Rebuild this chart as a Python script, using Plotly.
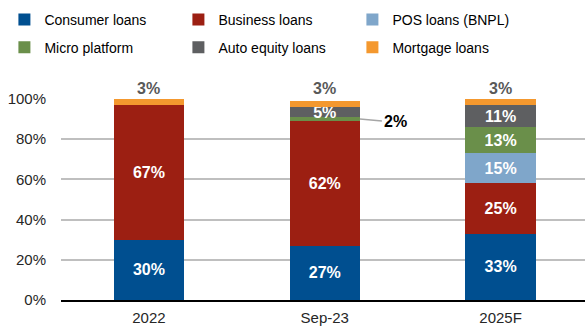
import plotly.graph_objects as go

periods = ["2022", "Sep-23", "2025F"]

consumer = [30, 27, 33]
business = [67, 62, 25]
pos_bnpl = [None, None, 15]
micro = [None, 2, 13]
auto_equity = [None, 5, 11]
mortgage = [3, 3, 3]

series = [
    ("Consumer loans", consumer, "#004f90", "legend"),
    ("Business loans", business, "#9c1f12", "legend"),
    ("POS loans (BNPL)", pos_bnpl, "#7fa6ca", "legend"),
    ("Micro platform", micro, "#6a8f4a", "legend2"),
    ("Auto equity loans", auto_equity, "#5e5f61", "legend2"),
    ("Mortgage loans", mortgage, "#f4982e", "legend2"),
]

xpos = list(range(len(periods)))

fig = go.Figure()
for name, vals, color, leg in series:
    # segments big enough get a white label inside; small ones are labelled separately
    labels = [f"{v}%" if (v is not None and v >= 4) else "" for v in vals]
    fig.add_trace(go.Bar(
        name=name,
        x=xpos,
        y=[v / 100 if v is not None else None for v in vals],
        marker=dict(color=color, line=dict(width=0)),
        text=labels,
        texttemplate="%{text}",
        textposition="inside",
        insidetextanchor="middle",
        constraintext="none",
        textfont=dict(color="white", size=16, family="Liberation Sans", weight="bold"),
        width=0.4,
        legend=leg,
        hoverinfo="skip",
    ))

# Mortgage share written above each column
for i, v in zip(xpos, mortgage):
    fig.add_annotation(
        x=i, y=1.0, xref="x", yref="y", text=f"<b>{v}%</b>", showarrow=False,
        yanchor="bottom", yshift=0,
        font=dict(size=16, color="#595959", family="Liberation Sans"),
    )

# Thin micro-platform slice in Sep-23 labelled with a leader line
idx = periods.index("Sep-23")
micro_mid = (consumer[idx] + business[idx] + micro[idx] / 2) / 100
fig.add_annotation(
    x=idx + 0.2, y=micro_mid, xref="x", yref="y",
    text=f"<b>{micro[idx]}%</b>", showarrow=True, arrowhead=0,
    arrowwidth=1.5, arrowcolor="#a6a6a6", ax=22, ay=2,
    xanchor="left",
    font=dict(size=16, color="black", family="Liberation Sans"),
)

legend_style = dict(
    orientation="h", xanchor="left", yanchor="middle",
    font=dict(size=14, color="#000000", family="Liberation Sans"),
    entrywidth=129, entrywidthmode="pixels",
    itemwidth=30, bgcolor="rgba(0,0,0,0)", traceorder="normal",
)

fig.update_layout(
    width=585, height=329,
    margin=dict(l=61, r=0, t=99, b=29),
    paper_bgcolor="white", plot_bgcolor="white",
    barmode="stack",
    font=dict(family="Liberation Sans", size=15, color="#262626"),
    legend=dict(x=-0.108, y=1.393, **legend_style),
    legend2=dict(x=-0.108, y=1.255, **legend_style),
    xaxis=dict(
        range=[-0.5, len(periods) - 0.52],
        tickvals=xpos, ticktext=periods,
        showline=True, linecolor="black", linewidth=2,
        showgrid=False, zeroline=False, ticks="",
        tickfont=dict(size=15, color="#262626"),
        ticklabelstandoff=3,
    ),
    yaxis=dict(
        range=[0, 1.0], tickvals=[0, 0.2, 0.4, 0.6, 0.8, 1.0],
        tickformat=".0%", showgrid=True, gridcolor="#bfbfbf", gridwidth=1.5,
        zeroline=False, ticks="", ticklabelstandoff=14,
        tickfont=dict(size=15, color="#262626"),
    ),
)

fig.write_html("out.html")
